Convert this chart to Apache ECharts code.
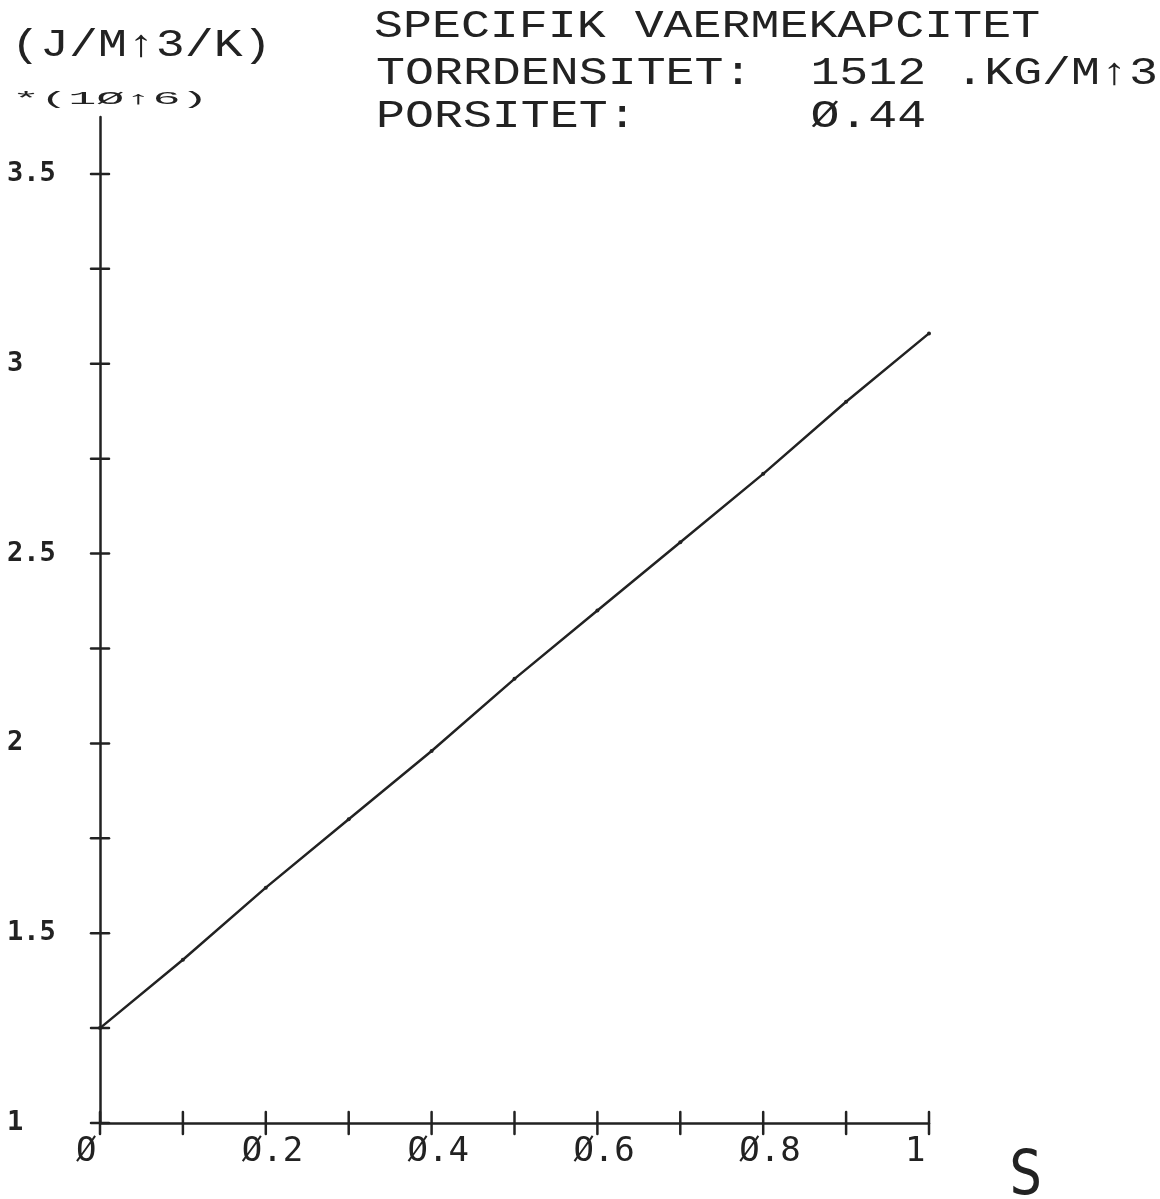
<!DOCTYPE html>
<html>
<head>
<meta charset="utf-8">
<title>Spesifikk varmekapasitet</title>
<script src="https://cdn.jsdelivr.net/npm/echarts@6/dist/echarts.min.js"></script>
<style>
  html, body { margin: 0; padding: 0; background: #ffffff; }
  #chart { width: 1160px; height: 1199px; }
</style>
</head>
<body>
<div id="chart"></div>
<script>
// Saturation S (x) and volumetric heat capacity in J/(m^3 K), scaled by 10^6 (y)
const saturation = [0, 0.1, 0.2, 0.3, 0.4, 0.5, 0.6, 0.7, 0.8, 0.9, 1.0];
const heatCapacity = [1.25, 1.43, 1.62, 1.80, 1.98, 2.17, 2.35, 2.53, 2.71, 2.90, 3.08];

// Axis tick positions and labelled values
const xTickValues = [0, 0.1, 0.2, 0.3, 0.4, 0.5, 0.6, 0.7, 0.8, 0.9, 1];
const xLabelValues = [0, 0.2, 0.4, 0.6, 0.8, 1];
const yTickValues = [1, 1.25, 1.5, 1.75, 2, 2.25, 2.5, 2.75, 3, 3.25, 3.5];
const yLabelValues = [1, 1.5, 2, 2.5, 3, 3.5];

// Header texts
const titleLines = [
  'SPECIFIK VAERMEKAPCITET',
  'TORRDENSITET:  1512 .KG/M\u21913',
  'PORSITET:      \u00d8.44'
];
const yUnit = '(J/M\u21913/K)';
const yScale = '*(1\u00d8\u21916)';
const xName = 'S';

const INK = '#222222';
const PLOT_FONT = '"Liberation Mono", "DejaVu Sans Mono", monospace';

// Plotter-style zero with a slash
const slashZero = v => String(v).replace(/0/g, '\u00d8');

const chart = echarts.init(document.getElementById('chart'), null, { renderer: 'canvas' });

const yRange = { min: 1, max: 3.65 };
const xRange = { min: 0, max: 1 };

function headerText(text, x, y, size, scaleX) {
  return {
    type: 'text',
    x: x,
    y: y,
    scaleX: scaleX,
    silent: true,
    style: {
      text: text,
      font: size + 'px ' + PLOT_FONT,
      fill: INK,
      align: 'left',
      verticalAlign: 'middle'
    }
  };
}

const axisInk = { color: INK, width: 2.5 };

// Plotter ticks cross the axis line, half outside and half inside.
function crossTick(halfLen, vertical) {
  return function (params, api) {
    const p = api.coord([api.value(0), api.value(1)]);
    const shape = vertical
      ? { x1: p[0], y1: p[1] - halfLen, x2: p[0], y2: p[1] + halfLen }
      : { x1: p[0] - halfLen, y1: p[1], x2: p[0] + halfLen, y2: p[1] };
    return {
      type: 'line',
      shape: shape,
      style: { stroke: INK, lineWidth: 2.5, lineCap: 'round' }
    };
  };
}

const option = {
  backgroundColor: '#ffffff',
  animation: false,
  grid: { left: 100, right: 231, top: 117, bottom: 76, containLabel: false },
  xAxis: {
    type: 'value',
    min: xRange.min,
    max: xRange.max,
    axisLine: { show: true, lineStyle: axisInk },
    axisTick: { show: false },
    axisLabel: {
      customValues: xLabelValues,
      formatter: slashZero,
      color: INK,
      fontFamily: '"DejaVu Sans Mono", monospace',
      fontSize: 34,
      align: 'left',
      verticalAlign: 'top',
      margin: 12,
      padding: [0, 0, 0, -24]
    },
    splitLine: { show: false }
  },
  yAxis: {
    type: 'value',
    min: yRange.min,
    max: yRange.max,
    axisLine: { show: true, lineStyle: axisInk },
    axisTick: { show: false },
    axisLabel: {
      customValues: yLabelValues,
      color: INK,
      fontFamily: '"DejaVu Sans Mono", monospace',
      fontWeight: 'bold',
      fontSize: 27,
      align: 'left',
      margin: 93
    },
    splitLine: { show: false }
  },
  series: [
    {
      type: 'line',
      data: saturation.map((s, i) => [s, heatCapacity[i]]),
      showSymbol: true,
      symbol: 'circle',
      symbolSize: 4,
      itemStyle: { color: INK },
      lineStyle: { color: INK, width: 2.5 },
      silent: true,
      z: 3
    },
    {
      // x-axis ticks
      type: 'custom',
      clip: false,
      silent: true,
      data: xTickValues.map(v => [v, yRange.min]),
      encode: { x: 0, y: 1 },
      renderItem: crossTick(11, true),
      z: 2
    },
    {
      // y-axis ticks
      type: 'custom',
      clip: false,
      silent: true,
      data: yTickValues.map(v => [xRange.min, v]),
      encode: { x: 0, y: 1 },
      renderItem: crossTick(9, false),
      z: 2
    }
  ],
  graphic: [
    headerText(titleLines[0], 374, 27, 38, 1.27),
    headerText(titleLines[1], 376, 74, 38, 1.27),
    headerText(titleLines[2], 376, 117, 38, 1.27),
    headerText(yUnit, 11, 46, 38, 1.27),
    headerText(yScale, 12, 99, 18, 2.6),
    {
      type: 'text',
      x: 1009,
      y: 1178,
      scaleX: 0.9,
      silent: true,
      style: {
        text: xName,
        font: '62px "DejaVu Sans Mono", monospace',
        fill: INK,
        align: 'left',
        verticalAlign: 'middle'
      }
    }
  ]
};

chart.setOption(option);
</script>
</body>
</html>
